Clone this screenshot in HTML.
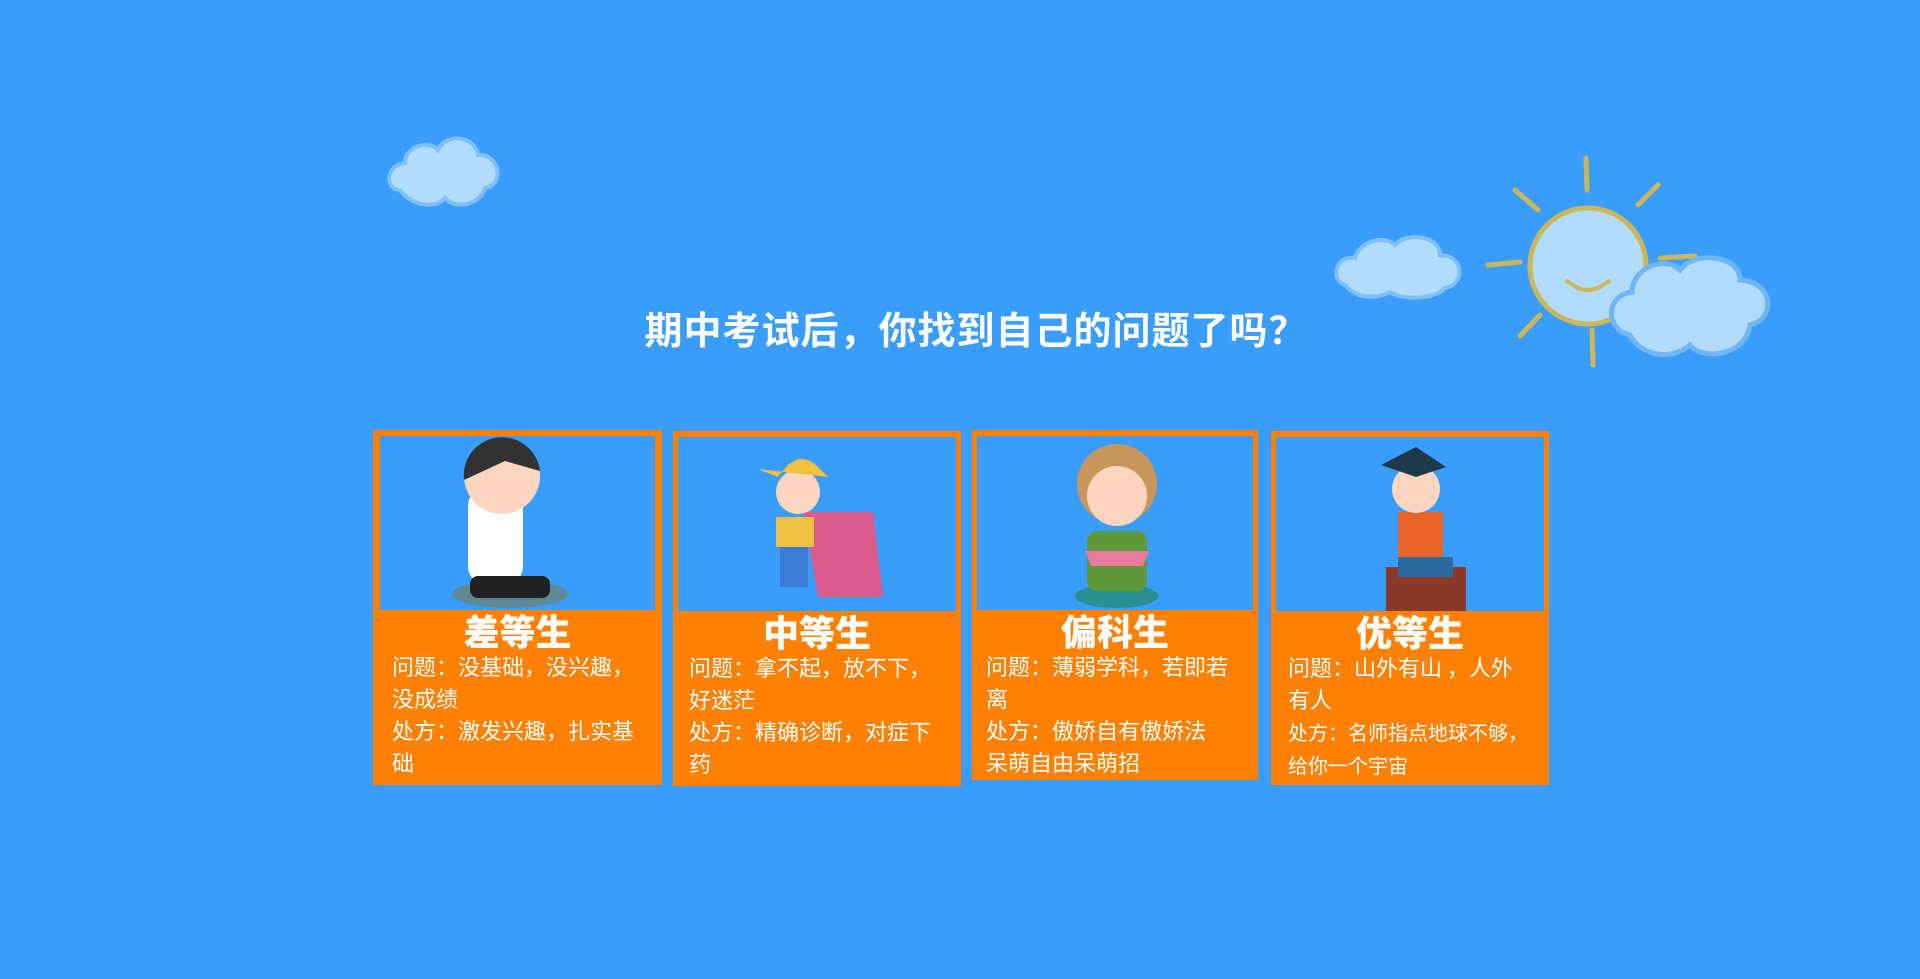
<!DOCTYPE html>
<html><head><meta charset="utf-8"><style>
html,body{margin:0;padding:0}
body{width:1920px;height:979px;background:#3b9dfb;position:relative;overflow:hidden;font-family:"Liberation Sans","Noto Sans CJK SC",sans-serif}
.title{position:absolute;left:0;width:1952px;top:300px;text-align:center;color:#fff;font-size:38px;font-weight:bold;letter-spacing:1px;font-family:"Noto Sans CJK SC","WenQuanYi Zen Hei",sans-serif}
.card{position:absolute;background:#ff8104}
.pic{position:absolute;left:7px;top:6px;right:7px;height:174px;background:#3b9dfb}
.ct{position:absolute;left:0;right:0;top:179px;text-align:center;color:#fff;font-size:36px;font-weight:900;line-height:42px;font-family:"Noto Sans CJK SC",sans-serif}
.tx{position:absolute;left:19px;right:10px;top:220px;color:#fff;font-size:22px;line-height:32px;font-family:"Noto Sans CJK SC",sans-serif}
svg{position:absolute}
</style></head><body>
<svg width="1920" height="979" style="left:0;top:0">
<g fill="#b3dcfc" stroke="#7fc0f5" stroke-width="4">
<path d="M400,190 C385,190 385,165 405,163 C405,145 430,140 438,150 C445,133 475,135 478,155 C500,153 505,185 485,188 C480,205 455,210 445,198 C435,210 410,205 400,190Z"/>
<path d="M1345,285 C1330,280 1335,255 1355,258 C1360,240 1385,235 1395,245 C1405,232 1440,235 1440,255 C1465,255 1465,285 1445,288 C1435,300 1400,300 1390,292 C1375,300 1355,298 1345,285Z"/>
</g>
<circle cx="1588" cy="266" r="58" fill="#b3dcfc" stroke="#c9b75a" stroke-width="5"/>
<path d="M1566,280 Q1588,300 1610,280" stroke="#c9b75a" stroke-width="4" fill="none"/>
<g stroke="#c9b75a" stroke-width="5" stroke-linecap="round">
<line x1="1586" y1="158" x2="1587" y2="190"/><line x1="1515" y1="190" x2="1538" y2="210"/><line x1="1488" y1="265" x2="1520" y2="262"/>
<line x1="1520" y1="336" x2="1540" y2="315"/><line x1="1592" y1="330" x2="1593" y2="365"/><line x1="1660" y1="258" x2="1695" y2="256"/><line x1="1638" y1="205" x2="1658" y2="185"/>
</g>
<g fill="#b3dcfc" stroke="#6fb6f2" stroke-width="5">
<path d="M1630,335 C1605,330 1605,295 1632,292 C1632,268 1665,255 1680,270 C1695,250 1740,255 1740,280 C1775,282 1775,320 1750,325 C1745,358 1700,360 1690,345 C1670,362 1640,355 1630,335Z"/>
</g>
</svg>
<div class="title">期中考试后，你找到自己的问题了吗？</div>

<div class="card" style="left:373px;top:430px;width:289px;height:355px">
<div class="pic"><svg width="275" height="174" style="left:0;top:0"><ellipse cx="130" cy="158" rx="58" ry="14" fill="#5f8a95"/><rect x="88" y="50" width="55" height="100" rx="20" fill="#fff"/><circle cx="122" cy="40" r="38" fill="#fcd6c0"/><path d="M84,44 A38,38 0 0 1 160,35 L125,25 Z" fill="#333"/><rect x="90" y="140" width="80" height="22" rx="8" fill="#222"/></svg></div>
<div class="ct">差等生</div>
<div class="tx">问题：没基础，没兴趣，没成绩<br>处方：激发兴趣，扎实基础</div>
</div>

<div class="card" style="left:673px;top:431px;width:288px;height:355px">
<div class="pic" style="left:5px;right:5px"><svg width="278" height="174" style="left:0;top:0"><path d="M125,75 L195,75 L205,160 L140,160Z" fill="#d95c8c"/><circle cx="120" cy="55" r="22" fill="#fcd6c0"/><path d="M100,40 Q120,10 140,30 L150,40 L80,32Z" fill="#f0c040"/><rect x="102" y="80" width="28" height="70" fill="#3a7bd5"/><rect x="98" y="80" width="38" height="30" fill="#f0c040"/></svg></div>
<div class="ct">中等生</div>
<div class="tx" style="left:16px">问题：拿不起，放不下，好迷茫<br>处方：精确诊断，对症下药</div>
</div>

<div class="card" style="left:972px;top:430px;width:286px;height:350px">
<div class="pic" style="left:5px;right:5px"><svg width="276" height="174" style="left:0;top:0"><ellipse cx="140" cy="160" rx="42" ry="12" fill="#2a8f8f"/><rect x="110" y="95" width="60" height="60" rx="10" fill="#5f9a3a"/><circle cx="140" cy="48" r="40" fill="#c8955a"/><circle cx="140" cy="60" r="30" fill="#fcd6c0"/><path d="M108,115 L172,115 L166,130 L114,130Z" fill="#e87aa0"/></svg></div>
<div class="ct">偏科生</div>
<div class="tx" style="left:14px">问题：薄弱学科，若即若离<br>处方：傲娇自有傲娇法<br>呆萌自由呆萌招</div>
</div>

<div class="card" style="left:1271px;top:431px;width:278px;height:354px">
<div class="pic" style="left:5px;right:5px"><svg width="268" height="174" style="left:0;top:0"><rect x="110" y="130" width="80" height="44" fill="#8a3a2a"/><rect x="122" y="75" width="45" height="60" fill="#e8642a"/><circle cx="140" cy="52" r="24" fill="#fcd6c0"/><path d="M105,28 L140,10 L170,30 L140,40Z" fill="#1f3a4a"/><rect x="122" y="120" width="55" height="20" fill="#2a6aa0"/></svg></div>
<div class="ct">优等生</div>
<div class="tx" style="left:17px;right:14px">问题：山外有山 ，人外<br>有人<br><span style="font-size:20px">处方：名师指点地球不够，给你一个宇宙</span></div>
</div>
</body></html>
